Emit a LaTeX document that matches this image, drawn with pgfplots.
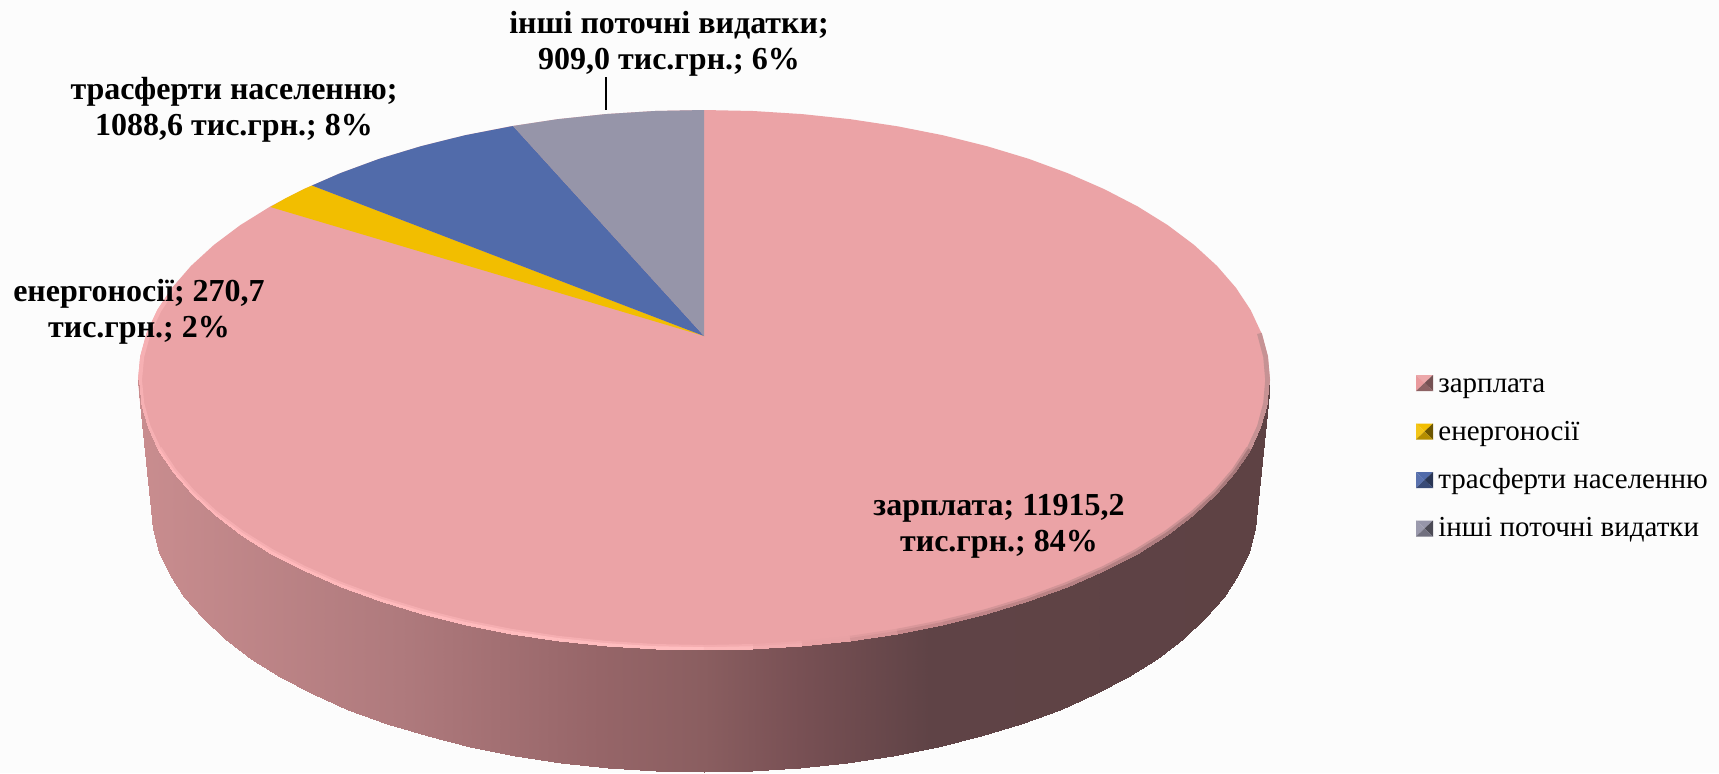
\documentclass[border=0pt]{standalone}
\usepackage{fontspec}
\setmainfont{Liberation Serif}
\usepackage{pgfplots}
\pgfplotsset{compat=1.18}
\definecolor{pk}{HTML}{EBA3A6}
\definecolor{yl}{HTML}{F2BE00}
\definecolor{bl}{HTML}{516BAA}
\definecolor{gr}{HTML}{9695A9}
\pgfplotsset{
 colormap={sideC}{rgb255(138mm)=(201,141,143) rgb255(400mm)=(175,122,125) rgb255(600mm)=(150,101,104) rgb255(704mm)=(138,94,96) rgb255(800mm)=(120,80,84) rgb255(930mm)=(95,67,70) rgb255(1270mm)=(94,66,68)},
 colormap={rimA}{rgb255(0cm)=(245,174,177) rgb255(5cm)=(245,174,177) rgb255(6cm)=(235,163,166) rgb255(7cm)=(215,150,153) rgb255(10cm)=(200,145,147)},
 colormap={rimB}{rgb255(0cm)=(255,182,185) rgb255(5cm)=(255,190,192) rgb255(6cm)=(235,163,166) rgb255(7cm)=(195,135,138) rgb255(10cm)=(165,120,122)}}
\tikzset{lab/.style={font=\fontsize{16}{18}\selectfont\bfseries, align=center, inner sep=0pt, text=black},
 leg/.style={anchor=base west, inner sep=0pt, text=black, font=\fontsize{14.5}{18}\selectfont}}
\newcommand{\legsq}[7]{%
 \addplot[fill=#4,draw=none] coordinates {(1416,#1) (1433,#1) (1424.5,#2)} -- cycle;
 \addplot[fill=#5,draw=none] coordinates {(1416,#1) (1424.5,#2) (1416,#3)} -- cycle;
 \addplot[fill=#6,draw=none] coordinates {(1433,#1) (1433,#3) (1424.5,#2)} -- cycle;
 \addplot[fill=#7,draw=none] coordinates {(1416,#3) (1433,#3) (1424.5,#2)} -- cycle;
}
\begin{document}
\begin{tikzpicture}
\begin{axis}[
 scale only axis, width=859.5pt, height=386.5pt,
 xmin=0, xmax=1719, ymin=0, ymax=773, y dir=reverse,
 hide axis, clip=true,
 point meta min=138, point meta max=1270,
]
% background
\addplot[fill=black!1,draw=none] coordinates {(0,0) (1719,0) (1719,773) (0,773)} -- cycle;
% top face: зарплата
\addplot[fill=pk,draw=none] coordinates {
(138,380) (140.2,403.5) (146.6,426.9) (157.3,449.9) (172.1,472.3) (191,494.1) (213.8,515) (240.3,534.9) (270.4,553.6) (303.8,570.9) (340.2,586.8) (379.3,601.2) (421,613.8) (464.8,624.7) (510.4,633.7) (557.5,640.8) (605.7,645.9) (654.6,649) (704,650)
(753.4,649) (802.3,645.9) (850.5,640.8) (897.6,633.7) (943.2,624.7) (987,613.8) (1028.7,601.2) (1067.8,586.8) (1104.2,570.9) (1137.6,553.6) (1167.7,534.9) (1194.2,515) (1217,494.1) (1235.9,472.3) (1250.7,449.9) (1261.4,426.9) (1267.8,403.5) (1270,380)
(1267.8,356.5) (1261.4,333.1) (1250.7,310.1) (1235.9,287.7) (1217,265.9) (1194.2,245) (1167.7,225.1) (1137.6,206.4) (1104.2,189.1) (1067.8,173.2) (1028.7,158.8) (987,146.2) (943.2,135.3) (897.6,126.3) (850.5,119.2) (802.3,114.1) (753.4,111) (704,110)
(654.6,111) (605.7,114.1) (557.5,119.2) (510.4,126.3) (464.8,135.3) (421,146.2) (379.3,158.8) (340.2,173.2) (303.8,189.1) (270.4,206.4) (240.3,225.1) (213.8,245) (191,265.9) (172.1,287.7) (157.3,310.1) (146.6,333.1) (140.2,356.5)
} -- cycle;
% енергоносії
\addplot[fill=yl,draw=none] coordinates {(704,336) (270.4,207) (286,198) (303.8,189.1) (312,185.5)} -- cycle;
% трасферти населенню
\addplot[fill=bl,draw=none] coordinates {(704,336) (312,185.5) (340.2,173.2) (379.3,158.8) (421,146.2) (464.8,135.3) (513,126)} -- cycle;
% інші поточні видатки
\addplot[fill=gr,draw=none] coordinates {(704,336) (513,126) (557.5,119.2) (605.7,114.1) (654.6,111) (704,110)} -- cycle;
% rim of the top face: inner thin parts at both sides
\addplot[color={rgb,255:red,246;green,176;blue,179}, line width=2pt] coordinates {(174,288.4) (159.2,310.6) (148.6,333.4) (142.2,356.7) (140,380) (142.2,403.3) (148.6,426.6) (159.2,449.4)};
\addplot[color={rgb,255:red,198;green,146;blue,148}, line width=2.4pt] coordinates {(1259.4,333.4) (1265.6,356.7) (1267.6,380) (1265.6,403.3) (1259.4,426.6) (1248.8,449.4)};
% rim of the top face: front
\addplot[mesh, colormap name=rimA, point meta=x, line width=5pt, line cap=butt] coordinates {
(157.3,449.9) (172.1,472.3) (191,494.1) (213.8,515) (240.3,534.9) (270.4,553.6) (303.8,570.9) (340.2,586.8) (379.3,601.2) (421,613.8) (464.8,624.7) (510.4,633.7) (557.5,640.8) (605.7,645.9) (654.6,649) (704,650)
(753.4,649) (802.3,645.9) (850.5,640.8) (897.6,633.7) (943.2,624.7) (987,613.8) (1028.7,601.2) (1067.8,586.8) (1104.2,570.9) (1137.6,553.6) (1167.7,534.9) (1194.2,515) (1217,494.1) (1235.9,472.3) (1250.7,449.9)};
\addplot[mesh, colormap name=rimB, point meta=x, line width=2.8pt, line cap=butt] coordinates {
(157.3,449.9) (172.1,472.3) (191,494.1) (213.8,515) (240.3,534.9) (270.4,553.6) (303.8,570.9) (340.2,586.8) (379.3,601.2) (421,613.8) (464.8,624.7) (510.4,633.7) (557.5,640.8) (605.7,645.9) (654.6,649) (704,650)
(753.4,649) (802.3,645.9) (850.5,640.8) (897.6,633.7) (943.2,624.7) (987,613.8) (1028.7,601.2) (1067.8,586.8) (1104.2,570.9) (1137.6,553.6) (1167.7,534.9) (1194.2,515) (1217,494.1) (1235.9,472.3) (1250.7,449.9)};
% side wall
\addplot[surf, shader=interp, colormap name=sideC, point meta=x, mesh/rows=2, mesh/ordering=x varies] coordinates {
(138,380) (140.2,403.5) (146.6,426.9) (157.3,449.9) (172.1,472.3) (191,494.1) (213.8,515) (240.3,534.9) (270.4,553.6) (303.8,570.9) (340.2,586.8) (379.3,601.2) (421,613.8) (464.8,624.7) (510.4,633.7) (557.5,640.8) (605.7,645.9) (654.6,649) (704,650)
(753.4,649) (802.3,645.9) (850.5,640.8) (897.6,633.7) (943.2,624.7) (987,613.8) (1028.7,601.2) (1067.8,586.8) (1104.2,570.9) (1137.6,553.6) (1167.7,534.9) (1194.2,515) (1217,494.1) (1235.9,472.3) (1250.7,449.9) (1261.4,426.9) (1267.8,403.5) (1270,380)

(151,506) (153.1,529.2) (159.4,552.2) (169.9,574.8) (184.3,597) (202.8,618.4) (225.1,639) (251,658.6) (280.4,676.9) (313,694.1) (348.5,709.8) (386.8,723.9) (427.5,736.4) (470.3,747.1) (514.9,756) (560.9,762.9) (608,768) (655.8,771) (704,772)
(752.2,771) (800,768) (847.1,762.9) (893.1,756) (937.7,747.1) (980.5,736.4) (1021.2,723.9) (1059.5,709.8) (1095,694.1) (1127.6,676.9) (1157,658.6) (1182.9,639) (1205.2,618.4) (1223.7,597) (1238.1,574.8) (1248.6,552.2) (1254.9,529.2) (1257,506)
};
% leader line
\addplot[black, line width=0.6pt] coordinates {(606,77) (606,110)};
% data labels
\node[lab] at (axis cs:669,43.5) {інші поточні видатки;\\909,0 тис.грн.; 6\%};
\node[lab] at (axis cs:234,110) {трасферти населенню;\\1088,6 тис.грн.; 8\%};
\node[lab] at (axis cs:139,311.5) {енергоносії; 270,7\\тис.грн.; 2\%};
\node[lab] at (axis cs:999,526) {зарплата; 11915,2\\тис.грн.; 84\%};
% legend
\legsq{375}{383}{391}{pk!95!white}{pk!110!white}{pk!50!black}{pk!60!black}
\legsq{423.5}{431.5}{439.5}{yl}{yl!90!white}{yl!45!black}{yl!75!black}
\legsq{472}{480}{488}{bl}{bl!95!white}{bl!50!black}{bl!70!black}
\legsq{520.5}{528.5}{536.5}{gr}{gr!95!white}{gr!50!black}{gr!75!black}
\node[leg] at (axis cs:1438,392) {зарплата};
\node[leg] at (axis cs:1438,440) {енергоносії};
\node[leg] at (axis cs:1438,488) {трасферти населенню};
\node[leg] at (axis cs:1438,536) {інші поточні видатки};
\end{axis}
\end{tikzpicture}
\end{document}
